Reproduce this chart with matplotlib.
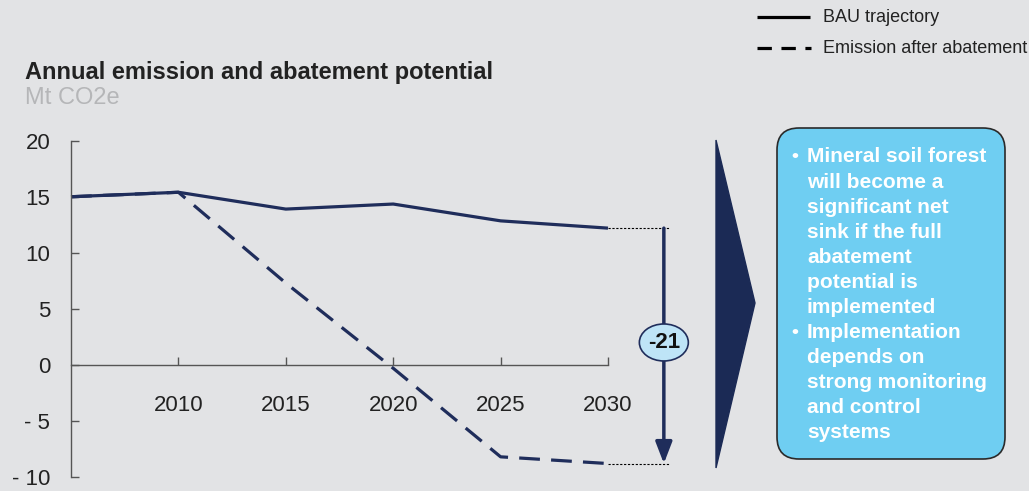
import numpy as np
import matplotlib
matplotlib.use("Agg")
import matplotlib.pyplot as plt
from matplotlib.patches import Ellipse, Polygon, FancyBboxPatch
from matplotlib import rcParams

rcParams["font.family"] = ["Liberation Sans", "DejaVu Sans"]

# data
years = [2005, 2010, 2015, 2020, 2025, 2030]
bau = [15.0, 15.4, 13.9, 14.35, 12.85, 12.2]
abated = [15.0, 15.4, 7.3, -0.3, -8.2, -8.8]
gap_label = "-21"
x_ticks = [2010, 2015, 2020, 2025, 2030]
y_ticks = [-10, -5, 0, 5, 10, 15, 20]
y_tick_labels = ["- 10", "- 5", "0", "5", "10", "15", "20"]
bullets = [
    ["Mineral soil forest", "will become a", "significant net", "sink if the full",
     "abatement", "potential is", "implemented"],
    ["Implementation", "depends on", "strong monitoring", "and control", "systems"],
]

BG = "#E2E3E5"
NAVY = "#1F2D5B"
W, H = 1029, 491

fig = plt.figure(figsize=(W / 100, H / 100), dpi=100, facecolor=BG)

# overlay in pixel coordinates for annotations
ov = fig.add_axes([0, 0, 1, 1], zorder=0)
ov.set_xlim(0, W)
ov.set_ylim(H, 0)
ov.axis("off")
ov.patch.set_alpha(0)

ax = fig.add_axes([71 / W, (H - 477) / H, 537 / W, (477 - 140.7) / H], zorder=1)
ax.patch.set_alpha(0)
ax.set_xlim(2005, 2030)
ax.set_ylim(-10, 20)

ax.plot(years, bau, color=NAVY, lw=2.3, solid_capstyle="butt", clip_on=False)
ax.plot(years, abated, color=NAVY, lw=2.3, linestyle=(0, (6.5, 3.5)), clip_on=False)

for s in ["top", "right"]:
    ax.spines[s].set_visible(False)
ax.spines["bottom"].set_position(("data", 0))
for s in ["left", "bottom"]:
    ax.spines[s].set_color("#555555")
    ax.spines[s].set_linewidth(1.0)

ax.set_xticks(x_ticks)
ax.set_xticklabels([str(x) for x in x_ticks])
ax.set_yticks(y_ticks)
ax.set_yticklabels(y_tick_labels)
ax.tick_params(axis="x", direction="in", length=6, width=1, color="#555555",
               pad=22, labelsize=16, labelcolor="#222222")
ax.tick_params(axis="y", direction="in", length=6, width=1, color="#555555",
               pad=15, labelsize=16, labelcolor="#222222")

# gap arrow with guides
x_arrow = 2032.6
x_guide_end = 2032.9
ax.plot([years[-1], x_guide_end], [bau[-1], bau[-1]], color="black", lw=0.8,
        linestyle=(0, (2, 1.5)), clip_on=False)
ax.plot([years[-1], x_guide_end], [abated[-1], abated[-1]], color="black", lw=0.8,
        linestyle=(0, (2, 1.5)), clip_on=False)
ax.annotate("", xy=(x_arrow, abated[-1]), xytext=(x_arrow, bau[-1]),
            arrowprops=dict(arrowstyle="-|>,head_length=0.65,head_width=0.25",
                            color=NAVY, lw=2.5, mutation_scale=20,
                            shrinkA=0, shrinkB=0),
            annotation_clip=False)
mid = 2.0
ax.add_patch(Ellipse((x_arrow, mid), 2.28, 3.3, facecolor="#BEE4F7",
                     edgecolor=NAVY, lw=1.2, clip_on=False, zorder=5))
ax.text(x_arrow, mid, gap_label, ha="center", va="center", fontsize=16,
        fontweight="bold", color="#111111", zorder=6, clip_on=False)

# title
ov.text(25, 72, "Annual emission and abatement potential", fontsize=17,
        fontweight="bold", color="#222222", va="center", ha="left")
ov.text(25, 98, "Mt CO2e", fontsize=17, color="#B5B6B8", va="center", ha="left")

# legend
ov.plot([757, 810], [17, 17], color="black", lw=2.3, solid_capstyle="butt")
ov.plot([757, 811], [48, 48], color="black", lw=2.3, linestyle=(0, (4.5, 3)))
ov.text(823, 17, "BAU trajectory", fontsize=13, color="#222222", va="center")
ov.text(823, 48, "Emission after abatement", fontsize=13, color="#222222", va="center")

# chevron
ov.add_patch(Polygon([[716, 140], [755, 303], [716, 468]], closed=True,
                     facecolor="#1B2A55", edgecolor="#1B2A55"))

# text box
ov.add_patch(FancyBboxPatch((777, 128), 228, 331,
                            boxstyle="round,pad=0,rounding_size=22",
                            facecolor="#6FCEF2", edgecolor="#2A2A2A", lw=1.2))
y = 157
for group in bullets:
    ov.text(795, y, "\u2022", fontsize=14, color="white", fontweight="bold",
            ha="center", va="center")
    for line in group:
        ov.text(807, y, line, fontsize=15, color="white", fontweight="bold",
                ha="left", va="center")
        y += 25.05

fig.savefig("out.png", dpi=100, facecolor=BG)
